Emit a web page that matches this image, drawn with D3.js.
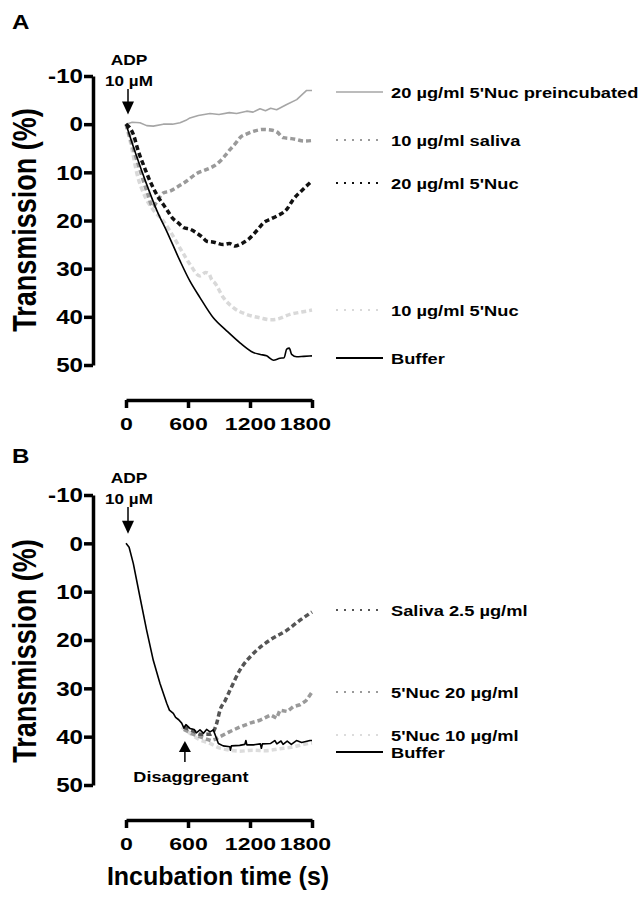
<!DOCTYPE html>
<html>
<head>
<meta charset="utf-8">
<script src="https://cdn.jsdelivr.net/npm/d3@7"></script>
<style>
  body { margin: 0; background: #fff; }
  svg text { font-family: "Liberation Sans", Arial, sans-serif; font-weight: bold; }
</style>
</head>
<body>
<svg id="chart" width="642" height="898"></svg>
<script>
// ---- data (time in s, transmission in %) ----
const yTicks = [-10, 0, 10, 20, 30, 40, 50];
const xTicks = [0, 600, 1200, 1800];

// panel A
const aPreinc = [[0,0],[60,-0.4],[135,-0.3],[200,0.3],[264,0.4],[361,0],[450,0],[523,-0.3],[580,-0.8],[619,-1.3],[700,-1.8],[813,-2.2],[900,-2.0],[1000,-2.4],[1071,-2.2],[1168,-2.7],[1230,-2.5],[1297,-3.2],[1350,-2.8],[1400,-3.3],[1458,-3.0],[1555,-4.1],[1652,-5.1],[1748,-7],[1800,-7]];
const aSaliva = [[0,0],[70,5],[135,9.5],[210,14.5],[260,17.2],[300,16],[360,14.3],[426,13.9],[500,13],[587,11.8],[680,10.3],[781,9.4],[850,8.7],[910,7.7],[960,6.5],[1006,5.3],[1060,4],[1103,2.8],[1170,2],[1232,1.5],[1329,1.1],[1400,1.2],[1460,1.6],[1523,2.8],[1600,3],[1652,3.2],[1720,3.5],[1800,3.4]];
const aNuc20 = [[0,0],[71,2.1],[119,5.6],[168,8.4],[232,11.8],[297,14.6],[394,17.7],[450,19.5],[506,20.5],[560,21.5],[620,21.8],[684,22.6],[740,23.5],[781,24.3],[850,24.5],[942,25],[1000,24.8],[1055,25.3],[1100,25],[1135,24.6],[1190,23.8],[1232,22.9],[1290,21.5],[1329,20.5],[1400,19.7],[1458,19.1],[1555,17.7],[1619,15.6],[1700,13.8],[1800,11.8]];
const aNuc10 = [[0,0],[55,4.9],[103,10],[184,15],[264,17.8],[361,20.1],[426,22.2],[539,26.3],[619,29.1],[716,31.5],[770,30.8],[800,31],[830,32.3],[861,33],[942,36],[1039,38.1],[1168,39.5],[1297,40.2],[1400,40.6],[1458,40.5],[1587,39.5],[1700,39],[1800,38.6]];
const aBuffer = [[0,0],[100,6.5],[200,12.5],[300,18],[400,22.5],[523,28.4],[619,32.6],[716,36],[845,40.2],[974,42.9],[1103,45.4],[1232,47.4],[1300,47.8],[1361,48.1],[1426,49],[1490,48.6],[1530,48.5],[1555,46.7],[1580,46.5],[1603,47.8],[1652,48.3],[1720,48.2],[1800,48.1]];

// panel B
const bSaliva = [[560,38],[650,38.8],[720,39.5],[780,39.5],[813,39.5],[850,38.8],[877,37.3],[910,34.5],[960,32.5],[1006,30.4],[1103,26.2],[1232,22.8],[1394,20],[1555,18],[1684,15.9],[1800,14.2]];
const bNuc20 = [[560,38.5],[650,39.5],[750,40.3],[820,40.8],[870,40.5],[910,40],[1000,39],[1103,38],[1200,37.2],[1297,36.6],[1400,35.5],[1458,36.2],[1490,34.5],[1560,34.8],[1619,33.8],[1684,33.4],[1740,32.6],[1800,30.8]];
const bNuc10 = [[540,38],[619,39.3],[700,40.5],[813,41.4],[900,42.3],[1006,42.8],[1100,43],[1232,42.8],[1350,42.9],[1490,42.5],[1600,42.2],[1700,41.7],[1800,41.3]];
const bBuffer = [[0,0],[30,0.8],[71,4.2],[135,11.1],[200,18],[264,24.2],[329,29],[394,33.1],[420,34.5],[458,35.2],[480,36],[510,36.5],[539,37.2],[560,38.2],[580,37.5],[619,38.3],[660,38.5],[680,39.2],[716,38.6],[750,39.3],[780,38.5],[813,39],[845,38.6],[870,40],[894,41.4],[940,41.9],[1006,42.1],[1010,42.8],[1020,41.9],[1100,41.8],[1150,41.6],[1160,40.8],[1170,41.7],[1232,41.7],[1300,41.5],[1310,42.4],[1320,41.5],[1400,41.4],[1440,40.8],[1460,41.5],[1500,40.9],[1520,41.6],[1560,40.9],[1600,41.6],[1650,40.8],[1700,41.2],[1781,40.8],[1800,40.8]];

const aLabels = ["20 µg/ml 5'Nuc preincubated", "10 µg/ml saliva", "20 µg/ml 5'Nuc", "10 µg/ml 5'Nuc", "Buffer"];
const bLabels = ["Saliva 2.5 µg/ml", "5'Nuc 20 µg/ml", "5'Nuc 10 µg/ml", "Buffer"];

// ---- drawing ----
const svg = d3.select('#chart');
const solid = { dash: null, width: 1.6 };
const dotted = { dash: '5,3', width: 3.5 };

// text placed with a horizontal stretch (the source figure is wide-set)
function label(g, x, y, txt, size, k, anchor) {
  return g.append('text')
    .attr('transform', `translate(${x},${y}) scale(${k},1)`)
    .attr('text-anchor', anchor || 'start')
    .style('font-size', size + 'px')
    .text(txt);
}

function arrowDown(g, x, y0, tip) {
  g.append('line').attr('x1', x).attr('x2', x).attr('y1', y0).attr('y2', tip - 10)
    .attr('stroke', '#000').attr('stroke-width', 1.5);
  g.append('path').attr('d', `M${x - 6},${tip - 13}L${x + 6},${tip - 13}L${x},${tip}Z`).attr('fill', '#000');
}

function drawPanel(opt) {
  const g = svg.append('g');
  const x = d3.scaleLinear().domain([0, 1800]).range([126, 312]);
  const y = d3.scaleLinear().domain([-10, 50]).range(opt.yRange);

  // y axis
  const ya = g.append('g').attr('transform', 'translate(93,0)')
    .call(d3.axisLeft(y).tickValues(yTicks).tickFormat(d => String(d))
      .tickSize(9).tickSizeOuter(0).tickPadding(1));
  ya.selectAll('path, line').attr('stroke', '#000').attr('stroke-width', 3.5);
  ya.selectAll('text').style('font-size', '21px').attr('fill', '#000')
    .each(function () {
      const t = d3.select(this);
      t.attr('transform', `translate(${t.attr('x')},0) scale(1.15,1)`).attr('x', 0);
    });

  // x axis
  const xa = g.append('g').attr('transform', `translate(0,${opt.xAxisY})`)
    .call(d3.axisBottom(x).tickValues(xTicks).tickFormat(d => String(d))
      .tickSize(8).tickSizeOuter(0).tickPadding(10));
  xa.selectAll('path, line').attr('stroke', '#000').attr('stroke-width', 3.5);
  xa.selectAll('text').style('font-size', '16.5px').attr('fill', '#000')
    .attr('transform', (d, i) => `translate(${i === 3 ? -7 : 0},0) scale(1.4,1)`);

  // y title
  g.append('text')
    .attr('transform', `translate(36,${opt.titleY}) scale(1.25,1) rotate(-90)`)
    .attr('text-anchor', 'middle').style('font-size', '27px')
    .text('Transmission (%)');

  // panel letter
  label(g, 12, opt.letterY, opt.letter, 21, 1.15);

  // ADP annotation
  label(g, 129, opt.adpY, 'ADP', 14.5, 1.2, 'middle');
  label(g, 129, opt.adpY + 21, '10 µM', 14, 1.22, 'middle');
  arrowDown(g, 128, opt.adpY + 24, y(-2));

  // series
  opt.series.forEach(s => {
    const line = d3.line().x(d => x(d[0])).y(d => y(d[1]))
      .curve(s.smooth ? d3.curveMonotoneX : d3.curveLinear);
    g.append('path').datum(s.data)
      .attr('d', line)
      .attr('fill', 'none')
      .attr('stroke', s.color)
      .attr('stroke-width', s.style.width)
      .attr('stroke-dasharray', s.style.dash)
      .attr('stroke-linejoin', 'round');
  });

  // legend
  opt.legend.forEach(l => {
    const s = l.s;
    g.append('line').attr('x1', 336).attr('x2', 383).attr('y1', l.y).attr('y2', l.y)
      .attr('stroke', s.color)
      .attr('stroke-width', s.style.dash ? 2.2 : (s.color === '#000' ? 2 : 1.5))
      .attr('stroke-dasharray', s.style.dash ? '2,6' : null);
    label(g, 391, l.y + 5.5, s.name, 15.5, 1.18);
  });

  return { g, x, y };
}

// panel A
const sA = {
  preinc: { name: aLabels[0], data: aPreinc, color: '#a6a6a6', style: solid },
  saliva: { name: aLabels[1], data: aSaliva, color: '#9a9a9a', style: dotted, smooth: true },
  nuc20:  { name: aLabels[2], data: aNuc20, color: '#111', style: dotted, smooth: true },
  nuc10:  { name: aLabels[3], data: aNuc10, color: '#d9d9d9', style: dotted, smooth: true },
  buffer: { name: aLabels[4], data: aBuffer, color: '#000', style: solid, smooth: true }
};
drawPanel({
  letter: 'A', letterY: 29, yRange: [76, 365], xAxisY: 400, titleY: 220, adpY: 65,
  series: [sA.nuc10, sA.saliva, sA.preinc, sA.buffer, sA.nuc20],
  legend: [
    { s: sA.preinc, y: 92 }, { s: sA.saliva, y: 140 }, { s: sA.nuc20, y: 183 },
    { s: sA.nuc10, y: 310 }, { s: sA.buffer, y: 358 }
  ]
});

// panel B
const sB = {
  saliva: { name: bLabels[0], data: bSaliva, color: '#555', style: dotted, smooth: true },
  nuc20:  { name: bLabels[1], data: bNuc20, color: '#9a9a9a', style: dotted },
  nuc10:  { name: bLabels[2], data: bNuc10, color: '#dcdcdc', style: dotted, smooth: true },
  buffer: { name: bLabels[3], data: bBuffer, color: '#000', style: solid }
};
const pB = drawPanel({
  letter: 'B', letterY: 463, yRange: [495, 785], xAxisY: 820, titleY: 651, adpY: 483,
  series: [sB.nuc10, sB.nuc20, sB.saliva, sB.buffer],
  legend: [
    { s: sB.saliva, y: 610 }, { s: sB.nuc20, y: 692 },
    { s: sB.nuc10, y: 735 }, { s: sB.buffer, y: 752 }
  ]
});

// disaggregant marker
const dx = pB.x(570);
pB.g.append('line').attr('x1', dx).attr('x2', dx).attr('y1', 762).attr('y2', 750)
  .attr('stroke', '#000').attr('stroke-width', 1.5);
pB.g.append('path').attr('d', `M${dx - 6},${752}L${dx + 6},${752}L${dx},${741}Z`).attr('fill', '#000');
label(pB.g, 191, 782, 'Disaggregant', 14, 1.29, 'middle');

// x title
svg.append('text').attr('x', 218).attr('y', 885).attr('text-anchor', 'middle')
  .style('font-size', '25px').text('Incubation time (s)');
</script>
</body>
</html>
